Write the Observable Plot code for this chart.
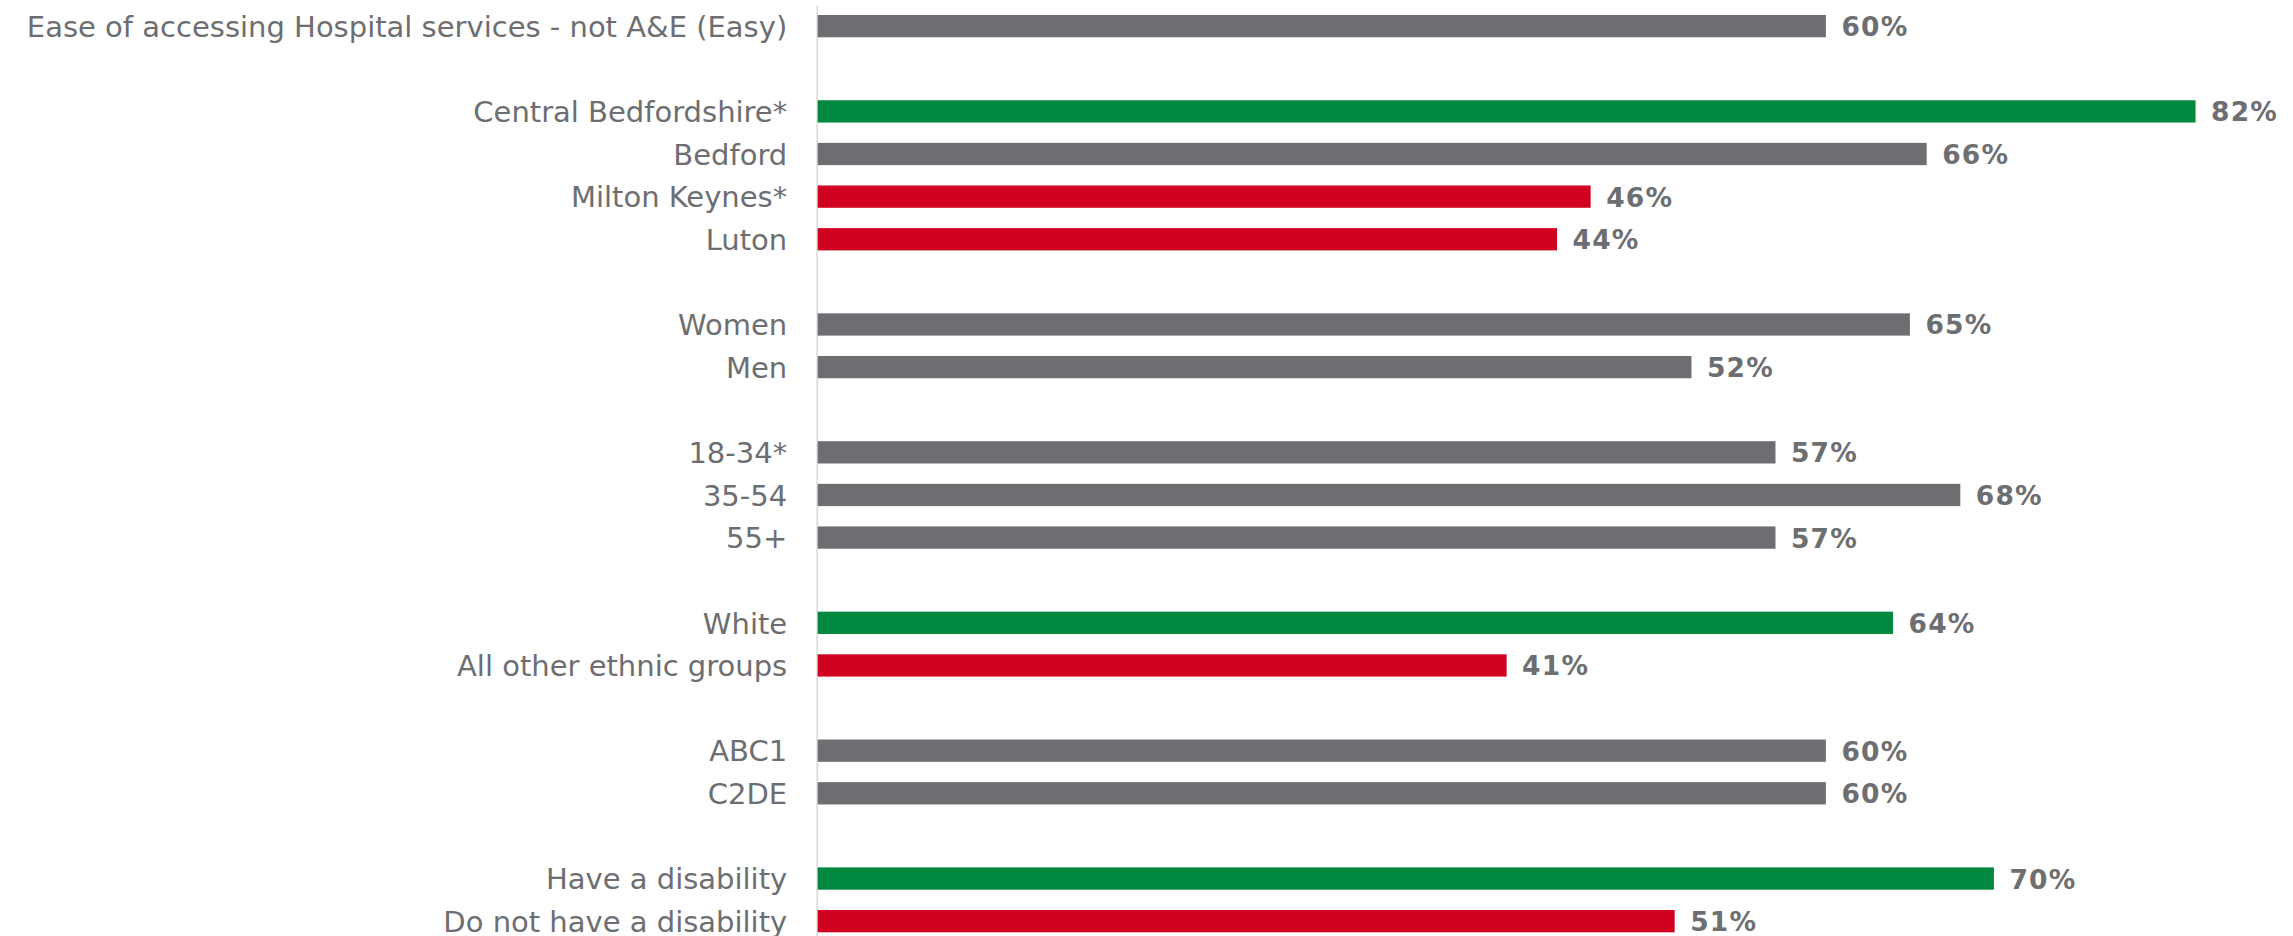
<!DOCTYPE html>
<html>
<head>
<meta charset="utf-8">
<script src="https://cdn.jsdelivr.net/npm/d3@7"></script>
<script src="https://cdn.jsdelivr.net/npm/@observablehq/plot@0.6"></script>
<style>
  html, body { margin: 0; padding: 0; background: #ffffff; overflow: hidden; }
  #chart svg { display: block; }
</style>
</head>
<body>
<div id="chart"></div>
<script>
// Rows of the chart, top to bottom; null marks a blank spacer row between groups.
const labels = [
  "Ease of accessing Hospital services - not A&E (Easy)", null,
  "Central Bedfordshire*", "Bedford", "Milton Keynes*", "Luton", null,
  "Women", "Men", null,
  "18-34*", "35-54", "55+", null,
  "White", "All other ethnic groups", null,
  "ABC1", "C2DE", null,
  "Have a disability", "Do not have a disability"
];

// Share answering "Easy" (%).
const values = [
  60, null,
  82, 66, 46, 44, null,
  65, 52, null,
  57, 68, 57, null,
  64, 41, null,
  60, 60, null,
  70, 51
];

// Difference from the overall figure: higher, lower or no significant difference.
const significance = [
  "same", null,
  "higher", "same", "lower", "lower", null,
  "same", "same", null,
  "same", "same", "same", null,
  "higher", "lower", null,
  "same", "same", null,
  "higher", "lower"
];

const toneDomain = ["higher", "same", "lower"];
const toneColors = ["#00883f", "#6d6e71", "#d0021f"];

const rows = labels.map((label, i) => ({row: i, label, value: values[i], tone: significance[i]}));
const filled = rows.filter(d => d.label !== null);

const chart = Plot.plot({
  width: 2293,
  height: 936,
  marginLeft: 817.7,
  marginRight: 0,
  marginTop: 11.3,
  marginBottom: 0,
  x: {domain: [0, 87.8], axis: null},
  y: {domain: d3.range(labels.length), paddingInner: 0.477, paddingOuter: 0.087, round: false, axis: null},
  color: {domain: toneDomain, range: toneColors},
  style: {fontFamily: "'DejaVu Sans', Verdana, sans-serif", background: "#ffffff"},
  marks: [
    Plot.ruleX([0], {stroke: "#d9d9d9", strokeWidth: 1.5, dx: -1, insetTop: -6}),
    Plot.barX(filled, {x: "value", y: "row", fill: "tone"}),
    Plot.text(filled, {
      x: 0, y: "row", text: "label", textAnchor: "end", dx: -31, dy: 1,
      fontSize: 29, fill: "#6d6e71"
    }),
    Plot.text(filled, {
      x: "value", y: "row", text: d => `${d.value}%`, textAnchor: "start", dx: 15, dy: 1,
      fontSize: 26.5, fontWeight: "bold", fill: "#6d6e71"
    })
  ]
});

// Verdana-style spacing for the bold value labels.
d3.select(chart).selectAll("g[aria-label='text']")
  .filter((d, i) => i === 1)
  .style("letter-spacing", "1.2px");

document.getElementById("chart").append(chart);
</script>
</body>
</html>
